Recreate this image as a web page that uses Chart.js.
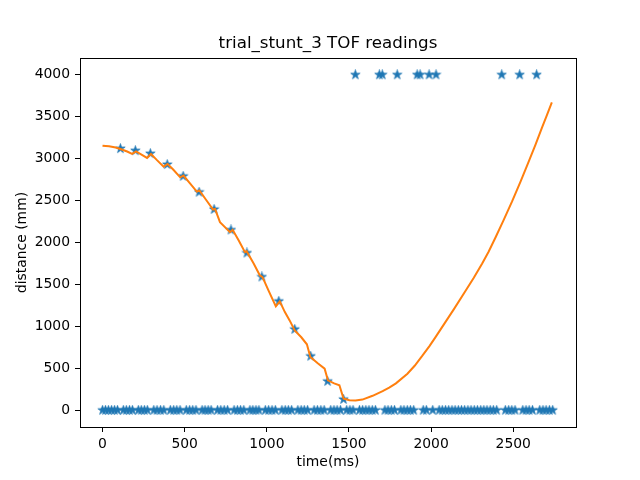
<!DOCTYPE html>
<html>
<head>
<meta charset="utf-8">
<script src="https://cdn.jsdelivr.net/npm/chart.js@4.4.1/dist/chart.umd.min.js"></script>
<style>
  html, body { margin: 0; padding: 0; background: #fff; }
  #wrap { width: 640px; height: 480px; }
</style>
</head>
<body>
<div id="wrap"><canvas id="myChart" width="640" height="480"></canvas></div>
<script>
// raw readings that came back as 0 (no target)
let zeroTimes = [0, 18, 36, 55, 73, 91, 127, 145, 164, 182, 218, 236, 255, 273,
  312, 332, 353, 373, 413, 433, 452, 472, 510, 530, 549, 569, 606, 624, 643, 661,
  700, 720, 741, 761, 801, 821, 840, 860, 897, 915, 934, 952, 991, 1011, 1032, 1052,
  1092, 1112, 1131, 1151, 1189, 1209, 1228, 1248, 1288, 1308, 1329, 1349,
  1389, 1409, 1428, 1448, 1486, 1506, 1525, 1564, 1583, 1603, 1622, 1642, 1661,
  1719, 1738, 1758, 1777, 1816, 1835, 1855, 1874, 1894, 1952, 1971, 2010,
  2049, 2068, 2088, 2107, 2127, 2146, 2166, 2185, 2204, 2224, 2243, 2263, 2282,
  2302, 2321, 2340, 2360, 2379, 2399, 2452, 2472, 2491, 2511, 2558, 2578, 2597,
  2617, 2661, 2681, 2700, 2720, 2740];

// readings that saturated at max range
let maxTimes = [1539, 1685, 1703, 1794, 1915, 1933, 1988, 2030, 2430, 2539, 2642];
let maxValue = 4000;

// valid readings
let validTimes = [109, 200, 291, 394, 491, 588, 679, 782, 879, 970, 1073, 1170, 1267, 1370, 1467];
let validDist = [3120, 3095, 3060, 2930, 2790, 2600, 2395, 2150, 1875, 1590, 1300, 965, 645, 345, 130];

// filtered estimate (orange)
let estTimes = [0, 40, 80, 109, 150, 180, 204, 240, 271, 295, 330, 372, 396, 430, 473, 493,
  530, 574, 590, 630, 673, 685, 715, 776, 792, 830, 867, 877, 920, 958, 974, 1010, 1055, 1079,
  1110, 1139, 1170, 1210, 1244, 1265, 1310, 1352, 1372, 1410, 1442, 1467, 1503, 1540, 1582,
  1644, 1705, 1745, 1786, 1856, 1900, 1947, 1990, 2028, 2080, 2139, 2210, 2260, 2311, 2350,
  2392, 2440, 2493, 2545, 2594, 2635, 2675, 2705, 2735];
let estDist = [3155, 3148, 3132, 3115, 3085, 3056, 3087, 3045, 3008, 3056, 2985, 2905, 2937, 2870, 2777, 2798,
  2710, 2607, 2620, 2510, 2393, 2400, 2242, 2123, 2151, 2020, 1885, 1896, 1750, 1607, 1587, 1430, 1238, 1298,
  1170, 1071, 952, 870, 786, 635, 560, 496, 357, 320, 298, 139, 119, 117, 127,
  172, 228, 270, 320, 435, 530, 650, 765, 875, 1030, 1205, 1425, 1580, 1750, 1890,
  2060, 2260, 2490, 2730, 2965, 3165, 3370, 3520, 3670];

let xTicks = [0, 500, 1000, 1500, 2000, 2500];
let yTicks = [0, 500, 1000, 1500, 2000, 2500, 3000, 3500, 4000];

const blue = "#1f77b4";
const orange = "#ff7f0e";
const fontFamily = "'DejaVu Sans', sans-serif";

// matplotlib style filled star marker
function makeStar(size, color) {
  const c = document.createElement('canvas');
  c.width = size; c.height = size;
  const g = c.getContext('2d');
  const cx = size / 2, cy = size / 2;
  const R = size / 2 - 0.6, r = R * 0.382;
  g.beginPath();
  for (let i = 0; i < 10; i++) {
    const rad = (i % 2 === 0) ? R : r;
    const a = -Math.PI / 2 + i * Math.PI / 5;
    const px = cx + rad * Math.cos(a), py = cy + rad * Math.sin(a);
    if (i === 0) g.moveTo(px, py); else g.lineTo(px, py);
  }
  g.closePath();
  g.fillStyle = color;
  g.fill();
  g.lineWidth = 0.8;
  g.strokeStyle = color;
  g.stroke();
  return c;
}
const star = makeStar(11, blue);

let points = [];
zeroTimes.forEach(t => points.push({x: t, y: 0}));
validTimes.forEach((t, i) => points.push({x: t, y: validDist[i]}));
maxTimes.forEach(t => points.push({x: t, y: maxValue}));

let estimate = estTimes.map((t, i) => ({x: t, y: estDist[i]}));

const frame = {
  id: 'frame',
  afterDatasetsDraw(chart) {
    const a = chart.chartArea, c = chart.ctx;
    c.save();
    c.strokeStyle = '#000';
    c.lineWidth = 1;
    c.strokeRect(Math.round(a.left) + 0.5, Math.round(a.top) + 0.5,
      Math.round(a.right - a.left), Math.round(a.bottom - a.top));
    c.fillStyle = '#000';
    c.font = "16.7px " + fontFamily;
    c.textAlign = 'center';
    c.textBaseline = 'middle';
    c.fillText('trial_stunt_3 TOF readings', (a.left + a.right) / 2, 44);
    c.restore();
  }
};

const ctx = document.getElementById('myChart');

let configuration = {
  type: 'scatter',
  data: {
    datasets: [
      {
        data: estimate,
        showLine: true,
        borderColor: orange,
        backgroundColor: orange,
        borderWidth: 2,
        pointRadius: 0,
        tension: 0,
        order: 0
      },
      {
        data: points,
        pointStyle: star,
        pointRadius: 5,
        order: 1
      }
    ]
  },
  options: {
    responsive: false,
    animation: false,
    layout: { padding: { top: 58, right: 64, left: 0, bottom: 0 } },
    plugins: {
      legend: { display: false },
      tooltip: { enabled: false }
    },
    scales: {
      x: {
        type: 'linear',
        min: -137,
        max: 2882,
        afterBuildTicks: s => { s.ticks = xTicks.map(v => ({value: v})); },
        afterFit: s => { s.height = 53; },
        grid: { drawOnChartArea: false, drawTicks: true, tickLength: 5, color: '#000' },
        border: { display: false },
        ticks: { color: '#000', padding: 4, maxRotation: 0, callback: v => String(v),
                 font: { family: fontFamily, size: 13.9 } },
        title: { display: true, text: 'time(ms)', color: '#000', padding: { top: 0, bottom: 9 },
                 font: { family: fontFamily, size: 13.9 } }
      },
      y: {
        type: 'linear',
        min: -200,
        max: 4200,
        afterBuildTicks: s => { s.ticks = yTicks.map(v => ({value: v})); },
        afterFit: s => { s.width = 80; },
        grid: { drawOnChartArea: false, drawTicks: true, tickLength: 5, color: '#000' },
        border: { display: false },
        ticks: { color: '#000', padding: 5, callback: v => String(v),
                 font: { family: fontFamily, size: 13.9 } },
        title: { display: true, text: 'distance (mm)', color: '#000', padding: { top: 14, bottom: 0 },
                 font: { family: fontFamily, size: 13.9 } }
      }
    }
  },
  plugins: [frame]
};

new Chart(ctx, configuration);
</script>
</body>
</html>
